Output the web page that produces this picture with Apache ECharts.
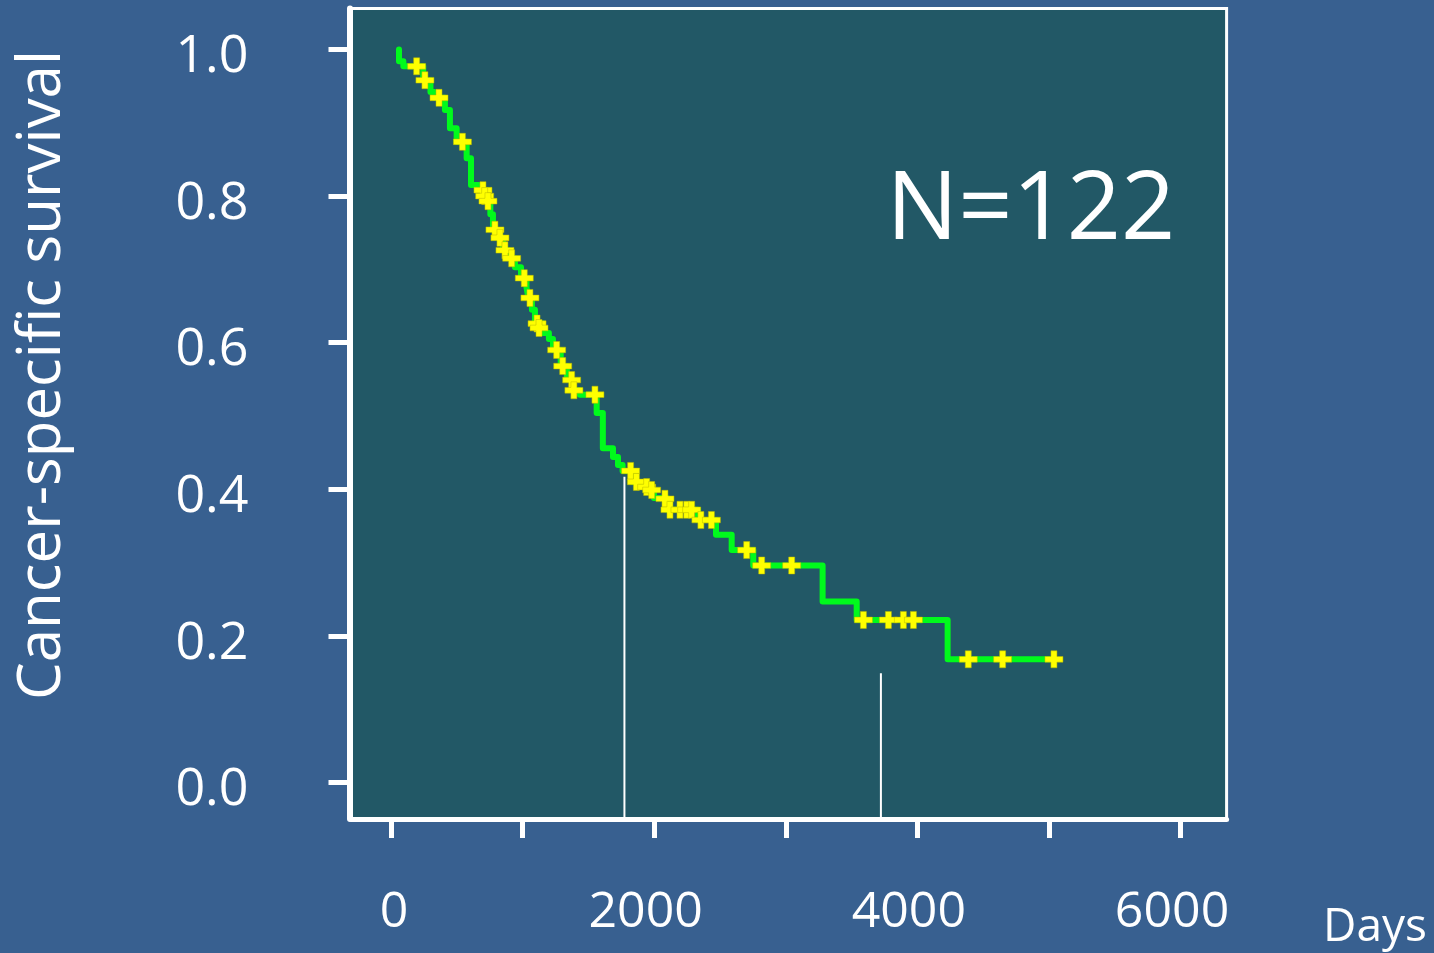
<!DOCTYPE html>
<html>
<head>
<meta charset="utf-8">
<script src="https://cdn.jsdelivr.net/npm/echarts@6/dist/echarts.min.js"></script>
<style>
html,body{margin:0;padding:0;background:#386090;}
#chart{width:1434px;height:953px;}
</style>
</head>
<body>
<div id="chart"></div>
<script>
// Kaplan-Meier steps: [days, survival after event]
const kmSteps = [
  [61,1.000],[61,0.984],[94,0.977],[245,0.958],[300,0.942],[330,0.934],[410,0.9175],[448,0.8925],
  [499,0.874],[575,0.8515],[608,0.815],[665,0.808],[730,0.793],[755,0.775],[775,0.754],
  [813,0.743],[851,0.726],[897,0.715],[942,0.703],[988,0.688],[1030,0.675],[1045,0.661],
  [1071,0.645],[1094,0.626],[1155,0.613],[1200,0.605],[1231,0.590],[1290,0.568],[1337,0.555],
  [1360,0.549],[1380,0.535],[1436,0.529],[1563,0.504],[1610,0.456],[1687,0.444],[1725,0.433],
  [1760,0.425],[1840,0.410],[1890,0.403],[1968,0.399],[1998,0.388],[2097,0.372],[2333,0.358],
  [2470,0.338],[2589,0.317],[2753,0.296],[3280,0.2467],[3539,0.2217],[4230,0.168],[5038,0.168]
];
// censored observations: [days, survival]
const censored = [
  [195,0.977],[258,0.958],[365,0.934],[543,0.874],[699,0.808],[712,0.800],[737,0.793],[790,0.754],
  [828,0.743],[866,0.726],[917,0.715],[1013,0.688],[1056,0.661],[1110,0.626],[1125,0.620],
  [1259,0.590],[1305,0.568],[1373,0.549],[1390,0.535],[1550,0.529],[1821,0.425],[1865,0.410],
  [1943,0.403],[1981,0.399],[2082,0.387],[2120,0.372],[2196,0.372],[2247,0.372],[2285,0.372],
  [2355,0.358],[2435,0.358],[2703,0.317],[2817,0.296],[3045,0.296],[3590,0.2217],[3780,0.2217],
  [3894,0.2217],[3970,0.2217],[4387,0.168],[4648,0.168],[5038,0.168]
];
// vertical reference lines
const refLineX = [1774, 3723];
const refLineTop = [0.417, 0.149];
const xTickValues = [0,1000,2000,3000,4000,5000,6000];
const xLabelValues = [0,2000,4000,6000];
const yTickValues = [0,0.2,0.4,0.6,0.8,1.0];
const yTitle = 'Cancer-specific survival';
const xTitle = 'Days';
const annotation = 'N=122';

const FONT = 'Open Sans';
const chart = echarts.init(document.getElementById('chart'));

const refSeries = refLineX.map((x, i) => ({
  type: 'line',
  data: [[x, refLineTop[i]], [x, -0.05]],
  symbol: 'none',
  silent: true,
  lineStyle: {color: '#ffffff', width: 2},
  z: 2
}));

chart.setOption({
  backgroundColor: '#386090',
  animation: false,
  grid: {
    left: 351.5, right: 207.4, top: 8.4, bottom: 133.9,
    show: true, backgroundColor: '#225866', borderColor: '#ffffff', borderWidth: 3
  },
  xAxis: {
    type: 'value', min: -300, max: 6350,
    axisLine: {show: true, onZero: false, lineStyle: {color: '#ffffff', width: 5}},
    axisTick: {show: true, customValues: xTickValues, length: 19, lineStyle: {color: '#ffffff', width: 5}},
    axisLabel: {
      show: true, customValues: xLabelValues, margin: 69,
      color: '#ffffff', fontFamily: FONT, fontSize: 50,
      formatter: v => (v === 0 ? '{a|0}' : '{b|' + v + '}'),
      rich: {
        a: {color: '#ffffff', fontFamily: FONT, fontSize: 50, padding: [0, 0, 0, 6]},
        b: {color: '#ffffff', fontFamily: FONT, fontSize: 50, padding: [0, 17, 0, 0]}
      }
    },
    splitLine: {show: false}
  },
  yAxis: {
    type: 'value', min: -0.05, max: 1.056, offset: 2,
    axisLine: {show: true, onZero: false, lineStyle: {color: '#ffffff', width: 6}},
    axisTick: {show: true, customValues: yTickValues, length: 21, lineStyle: {color: '#ffffff', width: 5}},
    axisLabel: {
      show: true, customValues: yTickValues, margin: 101,
      color: '#ffffff', fontFamily: FONT, fontSize: 52,
      formatter: v => '{a|' + v.toFixed(1) + '}',
      rich: {
        a: {color: '#ffffff', fontFamily: FONT, fontSize: 52, padding: [16, 0, 0, 0]}
      }
    },
    splitLine: {show: false}
  },
  graphic: [
    {type: 'text', x: 43, y: 375, rotation: Math.PI / 2,
     style: {text: yTitle, fill: '#ffffff', font: '60px "Open Sans"', align: 'center', verticalAlign: 'middle'}},
    {type: 'text', x: 1375, y: 928,
     style: {text: xTitle, fill: '#ffffff', font: '46px "Open Sans"', align: 'center', verticalAlign: 'middle'}},
    {type: 'text', x: 1031, y: 212,
     style: {text: annotation, fill: '#ffffff', font: '95px "Open Sans"', align: 'center', verticalAlign: 'middle'}}
  ],
  series: [
    ...refSeries,
    {
      type: 'line', data: kmSteps, step: 'end', symbol: 'none', silent: true,
      lineStyle: {color: '#00fa1c', width: 6, join: 'round', cap: 'round'}, z: 3
    },
    {
      type: 'scatter', data: censored, silent: true,
      symbol: 'path://M6,0h6v6h6v6h-6v6h-6v-6h-6v-6h6z', symbolSize: [18, 17],
      itemStyle: {color: '#ffff00', borderColor: '#b8b800', borderWidth: 0.5, opacity: 1}, z: 4
    }
  ]
});
</script>
</body>
</html>
